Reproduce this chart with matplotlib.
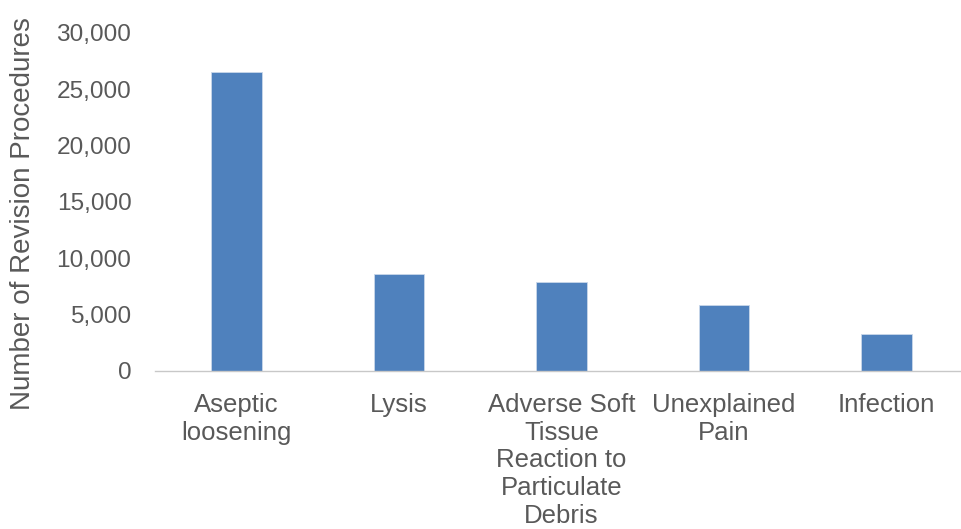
import matplotlib
matplotlib.use("Agg")
import matplotlib.pyplot as plt
from matplotlib.ticker import FuncFormatter

# Reasons for revision and the number of procedures for each
categories = [
    "Aseptic\nloosening",
    "Lysis",
    "Adverse Soft\nTissue\nReaction to\nParticulate\nDebris",
    "Unexplained\nPain",
    "Infection",
]
procedures = [26500, 8600, 7850, 5850, 3250]
y_ticks = [0, 5000, 10000, 15000, 20000, 25000, 30000]

plt.rcParams["font.family"] = ["Liberation Sans", "DejaVu Sans"]
text_color = "#595959"

fig = plt.figure(figsize=(9.61, 5.29), dpi=100)
ax = fig.add_axes([155 / 961, 1 - 370.5 / 529, 1 - 155 / 961, (370.5 - 33) / 529])

x = list(range(len(categories)))
ax.bar(x, procedures, width=0.31, color="#4F81BD", edgecolor="#C9D7EA", linewidth=0.6, zorder=2)

ax.set_xlim(-0.5, 4.5 - 7 / 162.75)
ax.set_ylim(0, 30000)
ax.set_yticks(y_ticks)
ax.yaxis.set_major_formatter(FuncFormatter(lambda v, p: f"{int(v):,}"))
ax.set_xticks(x)
ax.set_xticklabels(categories, linespacing=1.2)

ax.tick_params(axis="y", length=0, labelsize=17.6, colors=text_color, pad=17)
ax.tick_params(axis="x", length=0, labelsize=18.5, colors=text_color, pad=16)

for side in ("top", "right", "left"):
    ax.spines[side].set_visible(False)
ax.spines["bottom"].set_color("#C8C8C8")
ax.spines["bottom"].set_linewidth(1.0)
ax.spines["bottom"].set_linestyle((0, (2, 1)))

fig.text(23 / 961, 1 - 214 / 529, "Number of Revision Procedures", rotation=90,
         ha="center", va="center", fontsize=20, color=text_color)

fig.savefig("out.png", dpi=100)
